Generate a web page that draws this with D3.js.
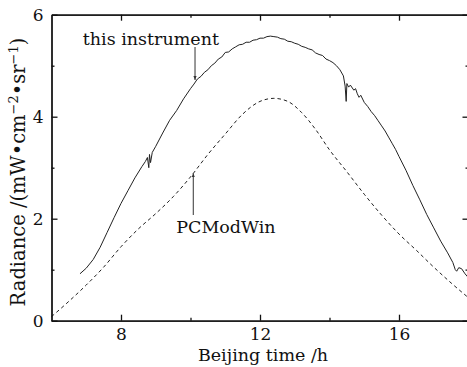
<!DOCTYPE html>
<html>
<head>
<meta charset="utf-8">
<script src="https://cdn.jsdelivr.net/npm/d3@7"></script>
<style>
  body { margin: 0; background: #fff; }
  text { font-family: 'DejaVu Serif', serif; fill: #111; }
</style>
</head>
<body>
<div id="chart"></div>
<script>
const instTime = [6.82, 7.0, 7.2, 7.4, 7.6, 7.8, 8.0, 8.2, 8.4, 8.6, 8.7, 8.76, 8.8, 8.82, 8.85, 8.9,
  9.0, 9.2, 9.4, 9.6, 9.8, 10.0, 10.1, 10.2, 10.3, 10.4, 10.5, 10.6, 10.7, 10.8, 10.9,
  11.0, 11.1, 11.2, 11.3, 11.4, 11.5, 11.6, 11.7, 11.8, 11.9, 12.0, 12.1, 12.2, 12.3, 12.4,
  12.5, 12.6, 12.7, 12.8, 12.9, 13.0, 13.1, 13.2, 13.3, 13.4, 13.5, 13.6, 13.7, 13.8, 13.9,
  14.0, 14.1, 14.2, 14.3, 14.4, 14.45, 14.48, 14.5, 14.55, 14.6, 14.7, 14.75, 14.8, 14.85, 14.9,
  15.0, 15.1, 15.2, 15.3, 15.4, 15.5, 15.6, 15.7, 15.8, 15.9, 16.0, 16.2, 16.4, 16.6, 16.8,
  17.0, 17.2, 17.4, 17.55, 17.62, 17.66, 17.72, 17.8, 17.9, 18.0];
const instValue = [0.92, 1.03, 1.2, 1.44, 1.73, 2.02, 2.3, 2.55, 2.8, 3.02, 3.12, 3.2, 3.0, 3.26, 3.1, 3.3,
  3.42, 3.68, 3.93, 4.12, 4.35, 4.55, 4.64, 4.74, 4.79, 4.87, 4.92, 5.0, 5.05, 5.13, 5.17,
  5.26, 5.27, 5.33, 5.37, 5.41, 5.42, 5.46, 5.46, 5.5, 5.51, 5.54, 5.54, 5.57, 5.58, 5.57,
  5.56, 5.53, 5.52, 5.48, 5.47, 5.44, 5.42, 5.38, 5.36, 5.33, 5.31, 5.25, 5.22, 5.2, 5.13,
  5.1, 5.06, 5.0, 4.92, 4.8, 4.6, 4.3, 4.65, 4.58, 4.62, 4.52, 4.55, 4.45, 4.38, 4.42,
  4.28, 4.2, 4.1, 4.02, 3.92, 3.82, 3.72, 3.6, 3.48, 3.36, 3.22, 2.95, 2.65, 2.37, 2.08,
  1.82, 1.56, 1.33, 1.14, 1.0, 0.97, 1.04, 1.02, 0.92, 0.84];

const modTime = [6.0, 6.5, 7.0, 7.5, 8.0, 8.5, 9.0, 9.5, 10.0, 10.5, 11.0, 11.5, 12.0, 12.4,
  12.8, 13.2, 13.6, 14.0, 14.5, 15.0, 15.5, 16.0, 16.5, 17.0, 17.5, 18.0];
const modValue = [0.08, 0.38, 0.7, 1.05, 1.45, 1.8, 2.1, 2.43, 2.82, 3.26, 3.66, 4.05, 4.3, 4.36,
  4.3, 4.08, 3.75, 3.35, 2.92, 2.48, 2.07, 1.7, 1.38, 1.05, 0.74, 0.45];

const xTicks = [8, 12, 16];
const xMinor = [10, 14];
const yTicks = [0, 2, 4, 6];
const yMinor = [1, 3, 5];

const margin = { top: 14.7, right: -1.5, bottom: 46.3, left: 51.5 };
const W = 467, H = 367;
const width = W - margin.left - margin.right;
const height = H - margin.top - margin.bottom;

const x = d3.scaleLinear().domain([6, 18]).range([0, width]);
const y = d3.scaleLinear().domain([0, 6]).range([height, 0]);

const svg = d3.select('#chart').append('svg')
  .attr('width', W).attr('height', H);
const g = svg.append('g').attr('transform', `translate(${margin.left},${margin.top})`);

const inst = instTime.map((t, i) => ({ t: t, v: instValue[i] }));
const mod = modTime.map((t, i) => ({ t: t, v: modValue[i] }));

const line = d3.line().x(d => x(d.t)).y(d => y(d.v));
const smooth = d3.line().x(d => x(d.t)).y(d => y(d.v)).curve(d3.curveMonotoneX);

g.append('path').datum(mod)
  .attr('d', smooth)
  .attr('fill', 'none').attr('stroke', '#222').attr('stroke-width', 1)
  .attr('stroke-dasharray', '3.5,3');

g.append('path').datum(inst)
  .attr('d', line)
  .attr('fill', 'none').attr('stroke', '#222').attr('stroke-width', 1);

// axes: ticks pointing inward on all four sides
function styleAxis(sel) {
  sel.attr('font-family', null);
  sel.select('.domain').attr('stroke', '#111').attr('stroke-width', 1.3);
  sel.selectAll('.tick line').attr('stroke', '#111').attr('stroke-width', 1.3);
  sel.selectAll('.tick text').style('font-size', '17px').attr('fill', '#111');
}

function addAxis(axis, vals, size, pad, fmt, tx, ty) {
  const a = g.append('g').attr('transform', `translate(${tx},${ty})`)
    .call(axis.tickValues(vals).tickSizeInner(-size).tickSizeOuter(0).tickPadding(pad).tickFormat(fmt));
  styleAxis(a);
  return a;
}

addAxis(d3.axisBottom(x), xTicks, 6, 7, d3.format('d'), 0, height);
addAxis(d3.axisBottom(x), xMinor, 3, 3, '', 0, height);
addAxis(d3.axisTop(x), xTicks, 6, 3, '', 0, 0);
addAxis(d3.axisTop(x), xMinor, 3, 3, '', 0, 0);
addAxis(d3.axisLeft(y), yTicks, 6, 8, d3.format('d'), 0, 0);
addAxis(d3.axisLeft(y), yMinor, 3, 3, '', 0, 0);
addAxis(d3.axisRight(y), yTicks, 6, 3, '', width, 0);
addAxis(d3.axisRight(y), yMinor, 3, 3, '', width, 0);

// axis titles
svg.append('text')
  .attr('x', 263).attr('y', 361)
  .attr('text-anchor', 'middle')
  .style('font-size', '17.5px')
  .text('Beijing time /h');

const yt = svg.append('text')
  .attr('transform', 'translate(25,172) rotate(-90)')
  .attr('text-anchor', 'middle')
  .style('font-size', '19.5px');
yt.append('tspan').text('Radiance /(mW\u2022cm');
yt.append('tspan').attr('dy', -7).style('font-size', '13px').text('\u22122');
yt.append('tspan').attr('dy', 7).text('\u2022sr');
yt.append('tspan').attr('dy', -7).style('font-size', '13px').text('\u22121');
yt.append('tspan').attr('dy', 7).text(')');

// annotations
svg.append('defs').append('marker')
  .attr('id', 'arr').attr('viewBox', '0 0 10 10')
  .attr('refX', 10).attr('refY', 5)
  .attr('markerWidth', 4).attr('markerHeight', 5)
  .attr('orient', 'auto')
  .append('path').attr('d', 'M0,1 L10,5 L0,9 Z').attr('fill', '#333');

g.append('text')
  .attr('x', x(8.86)).attr('y', 45 - margin.top)
  .attr('text-anchor', 'middle')
  .style('font-size', '17.5px')
  .text('this instrument');
g.append('line')
  .attr('x1', x(10.13)).attr('x2', x(10.13))
  .attr('y1', 47 - margin.top).attr('y2', y(4.72))
  .attr('stroke', '#333').attr('stroke-width', 1)
  .attr('marker-end', 'url(#arr)');

g.append('text')
  .attr('x', x(11.02)).attr('y', 233 - margin.top)
  .attr('text-anchor', 'middle')
  .style('font-size', '17.5px')
  .text('PCModWin');
g.append('line')
  .attr('x1', x(10.08)).attr('x2', x(10.08))
  .attr('y1', 215 - margin.top).attr('y2', y(2.89))
  .attr('stroke', '#333').attr('stroke-width', 1)
  .attr('marker-end', 'url(#arr)');
</script>
</body>
</html>
